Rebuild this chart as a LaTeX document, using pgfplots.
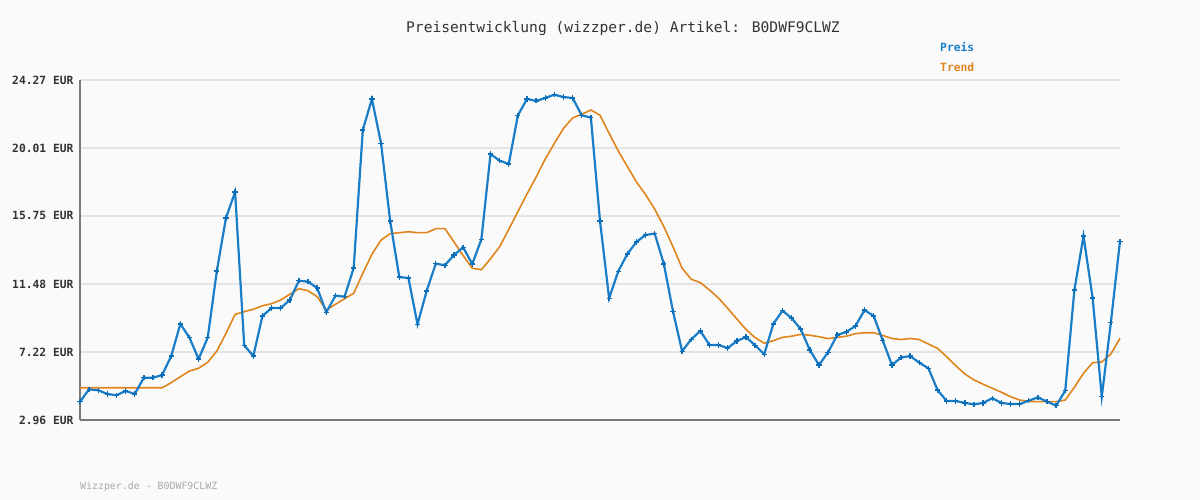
\documentclass[border=0pt]{standalone}
\usepackage{pgfplots}
\pgfplotsset{compat=1.18}
\usepackage{pgfplotstable}
\usepackage{fontspec}
\setmainfont{DejaVu Sans Mono}
\setmonofont{DejaVu Sans Mono}
\definecolor{bg}{HTML}{FAFAFA}
\definecolor{gridc}{HTML}{E4E4E4}
\definecolor{axisc}{HTML}{7A7A7A}
\definecolor{preis}{HTML}{1A7DC8}
\definecolor{preisd}{HTML}{0B6DB5}
\definecolor{trend}{HTML}{E0851C}
\definecolor{txt}{HTML}{333333}
\definecolor{foot}{HTML}{AAAAAA}

\pgfplotstableread{
x y
0 4.11
1 4.88
2 4.82
3 4.59
4 4.51
5 4.78
6 4.59
7 5.61
8 5.61
9 5.78
10 6.97
11 8.98
12 8.12
13 6.78
14 8.12
15 12.30
16 15.62
17 17.25
18 7.64
19 6.97
20 9.48
21 9.98
22 9.98
23 10.48
24 11.69
25 11.63
26 11.23
27 9.71
28 10.75
29 10.69
30 12.49
31 21.14
32 23.08
33 20.30
34 15.43
35 11.92
36 11.86
37 8.96
38 11.05
39 12.76
40 12.66
41 13.30
42 13.78
43 12.74
44 14.29
45 19.63
46 19.21
47 19.01
48 22.06
49 23.08
50 22.96
51 23.14
52 23.35
53 23.20
54 23.14
55 22.06
56 21.91
57 15.43
58 10.59
59 12.28
60 13.37
61 14.12
62 14.56
63 14.64
64 12.74
65 9.77
66 7.27
67 8.02
68 8.54
69 7.66
70 7.66
71 7.47
72 7.91
73 8.16
74 7.64
75 7.08
76 8.98
77 9.81
78 9.35
79 8.66
80 7.35
81 6.41
82 7.20
83 8.29
84 8.48
85 8.85
86 9.85
87 9.48
88 7.93
89 6.41
90 6.87
91 6.97
92 6.55
93 6.20
94 4.84
95 4.15
96 4.15
97 4.03
98 3.94
99 4.03
100 4.32
101 4.03
102 3.96
103 3.96
104 4.17
105 4.38
106 4.11
107 3.86
108 4.80
109 11.11
110 14.49
111 10.61
112 4.42
113 9.08
114 14.16
}\preistable

\pgfplotstableread{
x y
0 4.98
9 4.98
10 5.30
11 5.67
12 6.03
13 6.20
14 6.58
15 7.28
16 8.39
17 9.58
18 9.75
19 9.90
20 10.12
21 10.25
22 10.48
23 10.84
24 11.19
25 11.06
26 10.69
27 9.85
28 10.21
29 10.56
30 10.90
31 12.15
32 13.35
33 14.24
34 14.64
35 14.70
36 14.76
37 14.70
38 14.70
39 14.95
40 14.95
41 14.12
42 13.26
43 12.47
44 12.38
45 13.07
46 13.82
47 14.91
48 16.02
49 17.13
50 18.19
51 19.32
52 20.30
53 21.24
54 21.89
55 22.12
56 22.39
57 22.06
58 20.93
59 19.82
60 18.85
61 17.87
62 17.08
63 16.17
64 15.08
65 13.82
66 12.47
67 11.78
68 11.57
69 11.11
70 10.59
71 9.96
72 9.29
73 8.64
74 8.12
75 7.77
76 7.93
77 8.14
78 8.21
79 8.33
80 8.27
81 8.18
82 8.06
83 8.14
84 8.21
85 8.37
86 8.43
87 8.43
88 8.26
89 8.07
90 8.00
91 8.07
92 8.00
93 7.72
94 7.45
95 6.93
96 6.36
97 5.84
98 5.47
99 5.20
100 4.95
101 4.70
102 4.42
103 4.21
104 4.13
105 4.11
106 4.11
107 4.11
108 4.21
109 5.01
110 5.89
111 6.55
112 6.60
113 7.10
114 8.08
}\trendtable

\begin{document}
\begin{tikzpicture}[x=1pt,y=1pt]
\fill[bg] (0,0) rectangle (1200,500);
\begin{axis}[
  at={(80pt,80pt)}, anchor=south west,
  scale only axis, width=1040pt, height=340pt,
  xmin=0, xmax=114, ymin=2.96, ymax=24.27,
  axis x line*=bottom, axis y line*=left,
  axis line style={axisc, line width=2pt, -},
  xtick=\empty,
  ytick={2.96,7.22,11.48,15.75,20.01,24.27},
  yticklabels={2.96 EUR,7.22 EUR,11.48 EUR,15.75 EUR,20.01 EUR,24.27 EUR},
  yticklabel style={font=\fontsize{11.3}{12}\selectfont\bfseries, text=txt, xshift=-3pt},
  major tick length=0pt,
  ymajorgrids, grid style={gridc, line width=2pt},
  clip=false,
]
\addplot[trend, line width=1.6pt] table[x=x,y=y] {\trendtable};
\addplot[preis, line width=2.2pt, mark=+, mark size=2.6pt, mark options={preisd, line width=1.4pt}] table[x=x,y=y] {\preistable};
\end{axis}
\node[text=txt, font=\fontsize{14.6}{16}\selectfont] at (623,472) {Preisentwicklung (wizzper.de) Artikel: B0DWF9CLWZ};
\node[anchor=west, inner sep=0pt, text=preis, font=\fontsize{11.3}{12}\selectfont\bfseries] at (940,453) {Preis};
\node[anchor=west, inner sep=0pt, text=trend, font=\fontsize{11.3}{12}\selectfont\bfseries] at (940,433) {Trend};
\node[anchor=west, inner sep=0pt, text=foot, font=\fontsize{9.9}{11}\selectfont] at (80,13) {Wizzper.de - B0DWF9CLWZ};
\end{tikzpicture}
\end{document}
